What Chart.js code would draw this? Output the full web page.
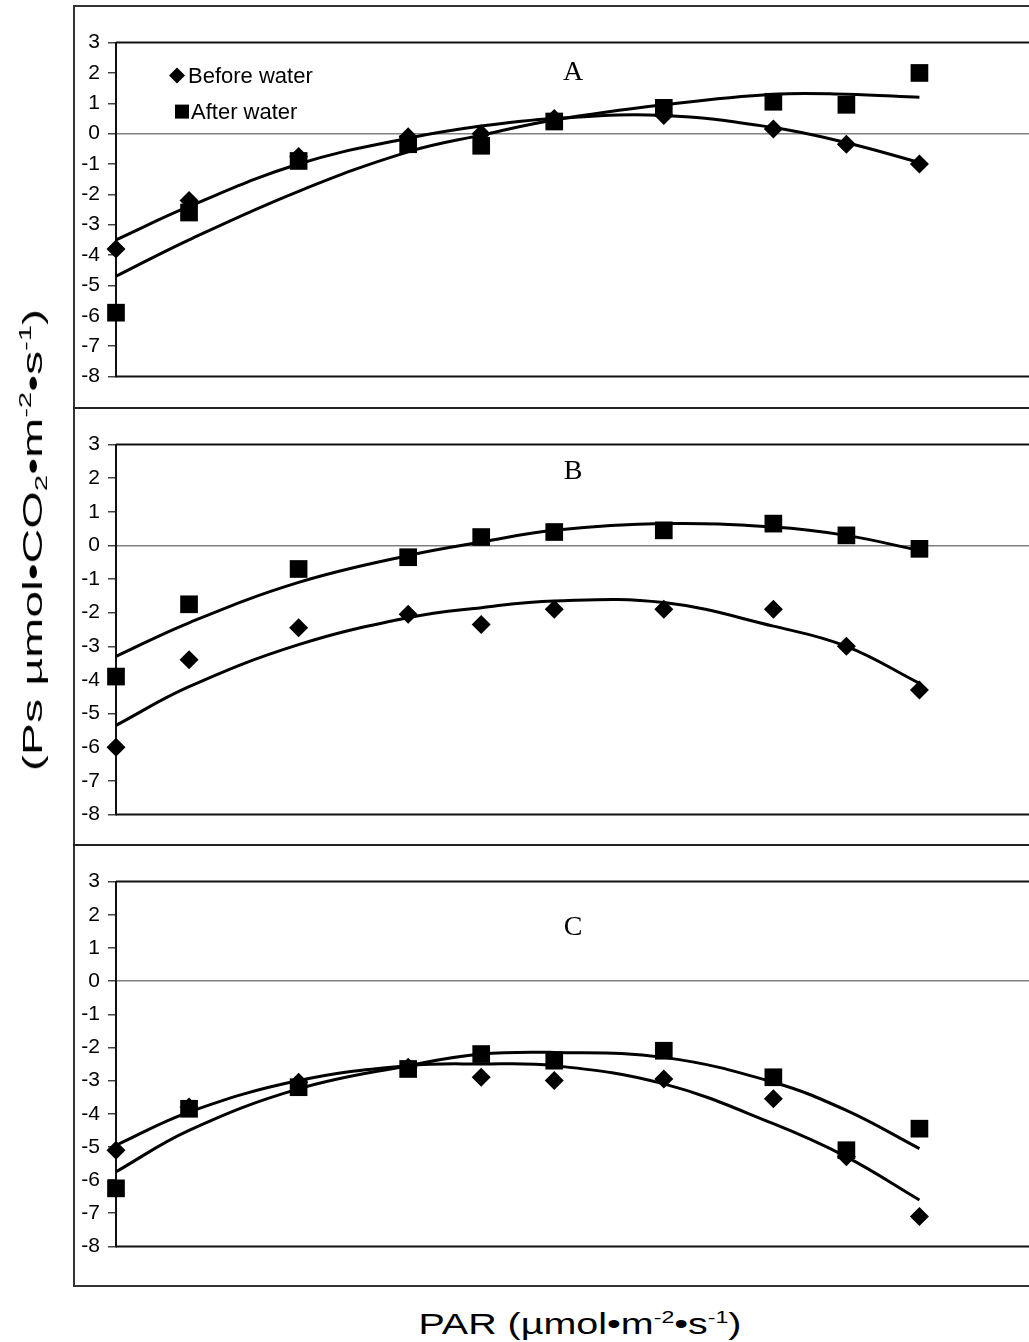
<!DOCTYPE html>
<html><head><meta charset="utf-8">
<script src="https://cdn.jsdelivr.net/npm/chart.js@4/dist/chart.umd.min.js"></script>
<style>
html,body{margin:0;padding:0;}
body{width:1029px;height:1342px;overflow:hidden;background:#fff;position:relative;font-family:"Liberation Sans",Arial,sans-serif;color:#000;}
#frame{position:absolute;left:73px;top:5px;width:1000px;height:1282px;border:2px solid #333;box-sizing:border-box;}
.sep{position:absolute;left:73px;width:1000px;height:0;border-top:2px solid #222;}
canvas{position:absolute;left:0;}
#ytitle{position:absolute;left:34px;top:540px;transform:translate(-50%,-50%) rotate(-90deg) scaleX(1.72);white-space:nowrap;font-size:28px;}
#xtitle{position:absolute;left:580px;top:1324px;transform:translate(-50%,-50%) scaleX(1.36);white-space:nowrap;font-size:29px;}
sup,sub{font-size:17px;}
sup{vertical-align:11px;} sub{vertical-align:-5px;}
</style>
</head><body>
<div id="frame"></div>
<div class="sep" style="top:407px"></div>
<div class="sep" style="top:844px"></div>
<canvas id="cA" width="1029" height="375" style="top:22px"></canvas>
<canvas id="cB" width="1029" height="411" style="top:424px"></canvas>
<canvas id="cC" width="1029" height="406" style="top:861px"></canvas>
<div id="ytitle">(Ps µmol•CO<sub>2</sub>•m<sup>-2</sup>•s<sup>-1</sup>)</div>
<div id="xtitle">PAR (µmol•m<sup>-2</sup>•s<sup>-1</sup>)</div>
<script>
// ---- data ----
const parValues = [0, 200, 500, 800, 1000, 1200, 1500, 1800, 2000, 2200];
const yMin = -8, yMax = 3, xMax = 2500;
const seriesNames = ['Before water', 'After water'];
const panelLabels = ['A', 'B', 'C'];

const beforeA = [-3.8, -2.2, -0.75, -0.1, 0.0, 0.5, 0.6, 0.15, -0.35, -1.0];
const afterA  = [-5.9, -2.6, -0.9, -0.35, -0.4, 0.4, 0.85, 1.05, 0.95, 2.0];
const trendBeforeA = [-3.5, -2.4, -1.0, -0.15, 0.25, 0.5, 0.6, 0.2, -0.3, -0.95];
const trendAfterA  = [-4.7, -3.5, -1.9, -0.6, -0.05, 0.45, 0.95, 1.3, 1.3, 1.2];

const beforeB = [-6.0, -3.4, -2.45, -2.05, -2.35, -1.9, -1.9, -1.9, -3.0, -4.3];
const afterB  = [-3.9, -1.75, -0.7, -0.35, 0.25, 0.4, 0.45, 0.65, 0.3, -0.1];
const trendBeforeB = [-5.35, -4.2, -2.95, -2.15, -1.85, -1.65, -1.7, -2.4, -3.0, -4.1];
const trendAfterB  = [-3.3, -2.3, -1.1, -0.3, 0.1, 0.45, 0.65, 0.55, 0.3, -0.15];

const beforeC = [-5.1, -3.8, -3.05, -2.6, -2.9, -3.0, -2.95, -3.55, -5.3, -7.1];
const afterC  = [-6.25, -3.85, -3.2, -2.65, -2.2, -2.4, -2.1, -2.9, -5.1, -4.45];
const trendBeforeC = [-4.95, -3.95, -3.0, -2.55, -2.5, -2.55, -3.1, -4.3, -5.3, -6.6];
const trendAfterC  = [-5.75, -4.5, -3.25, -2.55, -2.2, -2.15, -2.3, -3.05, -3.9, -5.05];

// ---- helpers ----
const pts = arr => parValues.map((x, i) => ({x: x, y: arr[i]}));

const framePlugin = {
  id: 'frame',
  afterDraw(chart, args, opts) {
    const {ctx, chartArea: a} = chart;
    ctx.save();
    ctx.strokeStyle = '#111';
    ctx.lineWidth = 2;
    ctx.beginPath();
    ctx.moveTo(a.left, a.top); ctx.lineTo(a.right, a.top);
    ctx.moveTo(a.left, a.bottom); ctx.lineTo(a.right, a.bottom);
    ctx.stroke();
    ctx.fillStyle = '#000';
    ctx.font = '28px "Liberation Serif", "Times New Roman", serif';
    ctx.textAlign = 'center';
    ctx.textBaseline = 'middle';
    const ys = chart.scales.y;
    ctx.fillText(opts.letter, 573, ys.getPixelForValue(opts.letterY));
    if (opts.legend) {
      ctx.font = '22px "Liberation Sans", Arial, sans-serif';
      ctx.textAlign = 'left';
      const dx = a.left + 61, dy = a.top + 33;
      ctx.beginPath();
      ctx.moveTo(dx, dy - 8); ctx.lineTo(dx + 8, dy); ctx.lineTo(dx, dy + 8); ctx.lineTo(dx - 8, dy);
      ctx.closePath(); ctx.fill();
      ctx.fillText(seriesNames[0], a.left + 72, dy + 1);
      const sx = a.left + 66, sy = a.top + 69;
      ctx.fillRect(sx - 7, sy - 7, 14, 14);
      ctx.fillText(seriesNames[1], a.left + 75, sy + 1);
    }
    ctx.restore();
  }
};

function makeChart(id, letter, letterY, legend, before, after, tBefore, tAfter) {
  return new Chart(document.getElementById(id), {
    type: 'scatter',
    data: {
      datasets: [
        {label: seriesNames[0] + ' trend', data: pts(tBefore), showLine: true, borderColor: '#000', borderWidth: 3, pointRadius: 0, tension: 0.4, fill: false, clip: false},
        {label: seriesNames[1] + ' trend', data: pts(tAfter), showLine: true, borderColor: '#000', borderWidth: 3, pointRadius: 0, tension: 0.4, fill: false, clip: false},
        {label: seriesNames[0], data: pts(before), pointStyle: 'rectRot', pointRadius: 9.5, backgroundColor: '#000', borderColor: '#000', borderWidth: 0, showLine: false, clip: false},
        {label: seriesNames[1], data: pts(after), pointStyle: 'rect', pointRadius: 12.5, backgroundColor: '#000', borderColor: '#000', borderWidth: 0, showLine: false, clip: false}
      ]
    },
    options: {
      responsive: false,
      animation: false,
      devicePixelRatio: 1,
      layout: {autoPadding: false, padding: {top: 20, bottom: 20, left: 0, right: 0}},
      plugins: {legend: {display: false}, tooltip: {enabled: false}, frame: {letter: letter, letterY: letterY, legend: legend}},
      scales: {
        x: {type: 'linear', min: 0, max: xMax, display: false},
        y: {
          min: yMin, max: yMax,
          afterFit(s) { s.width = 116; },
          ticks: {stepSize: 1, color: '#000', padding: 8, font: {size: 21, family: '"Liberation Sans", Arial, sans-serif'}},
          grid: {
            color: c => (c.tick && c.tick.value === 0) ? '#808080' : 'rgba(0,0,0,0)',
            tickColor: '#444', tickLength: 8, lineWidth: 1.5
          },
          border: {display: true, color: '#111', width: 2}
        }
      }
    },
    plugins: [framePlugin]
  });
}

makeChart('cA', panelLabels[0], 2.0, true, beforeA, afterA, trendBeforeA, trendAfterA);
makeChart('cB', panelLabels[1], 2.2, false, beforeB, afterB, trendBeforeB, trendAfterB);
makeChart('cC', panelLabels[2], 1.6, false, beforeC, afterC, trendBeforeC, trendAfterC);
</script>
</body></html>
